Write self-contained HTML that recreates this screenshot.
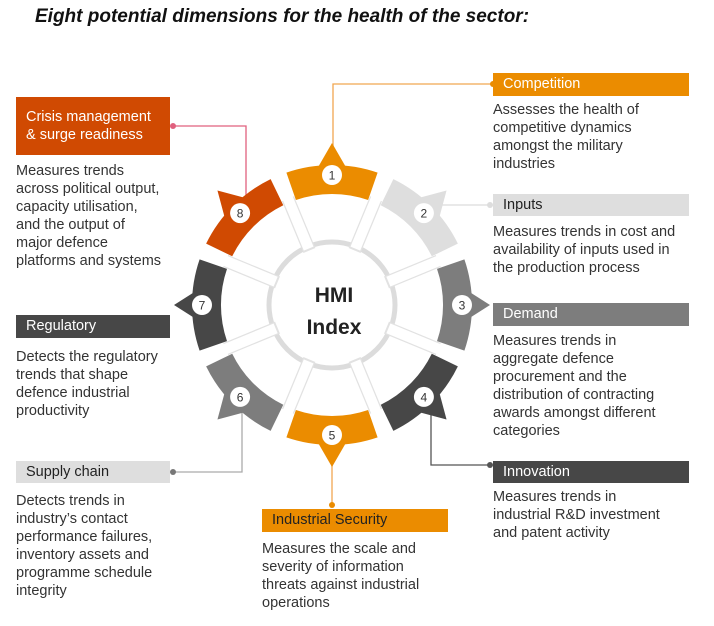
<!DOCTYPE html>
<html><head><meta charset="utf-8"><style>
body{margin:0;width:714px;height:626px;background:#fff;position:relative;font-family:"Liberation Sans",sans-serif;overflow:hidden}
.t{position:absolute;left:35px;top:6px;font-size:19px;font-weight:bold;font-style:italic;color:#111}
.b{position:absolute;font-size:14.5px;line-height:18px;padding-left:10px;box-sizing:border-box;color:#fff}
.d{position:absolute;font-size:14.5px;line-height:18px;color:#333}
svg{position:absolute;left:0;top:0}
</style></head><body>
<div class="t">Eight potential dimensions for the health of the sector:</div>
<svg width="714" height="626">
<circle cx="332" cy="305" r="63" fill="none" stroke="#dcdcdc" stroke-width="5"/>
<g transform="rotate(22.5 332 305)"><line x1="332" y1="246" x2="332" y2="190" stroke="#e2e2e2" stroke-width="13"/><line x1="332" y1="244" x2="332" y2="188" stroke="#fff" stroke-width="10.5"/></g>
<g transform="rotate(67.5 332 305)"><line x1="332" y1="246" x2="332" y2="190" stroke="#e2e2e2" stroke-width="13"/><line x1="332" y1="244" x2="332" y2="188" stroke="#fff" stroke-width="10.5"/></g>
<g transform="rotate(112.5 332 305)"><line x1="332" y1="246" x2="332" y2="190" stroke="#e2e2e2" stroke-width="13"/><line x1="332" y1="244" x2="332" y2="188" stroke="#fff" stroke-width="10.5"/></g>
<g transform="rotate(157.5 332 305)"><line x1="332" y1="246" x2="332" y2="190" stroke="#e2e2e2" stroke-width="13"/><line x1="332" y1="244" x2="332" y2="188" stroke="#fff" stroke-width="10.5"/></g>
<g transform="rotate(202.5 332 305)"><line x1="332" y1="246" x2="332" y2="190" stroke="#e2e2e2" stroke-width="13"/><line x1="332" y1="244" x2="332" y2="188" stroke="#fff" stroke-width="10.5"/></g>
<g transform="rotate(247.5 332 305)"><line x1="332" y1="246" x2="332" y2="190" stroke="#e2e2e2" stroke-width="13"/><line x1="332" y1="244" x2="332" y2="188" stroke="#fff" stroke-width="10.5"/></g>
<g transform="rotate(292.5 332 305)"><line x1="332" y1="246" x2="332" y2="190" stroke="#e2e2e2" stroke-width="13"/><line x1="332" y1="244" x2="332" y2="188" stroke="#fff" stroke-width="10.5"/></g>
<g transform="rotate(337.5 332 305)"><line x1="332" y1="246" x2="332" y2="190" stroke="#e2e2e2" stroke-width="13"/><line x1="332" y1="244" x2="332" y2="188" stroke="#fff" stroke-width="10.5"/></g>
<g fill="none" stroke-width="1.3">
<polyline points="333,150 333,84 493,84" stroke="#f0a650"/>
<polyline points="440,205 490,205" stroke="#dcdcdc"/>
<polyline points="173,126 246,126 246,195" stroke="#e0607e"/>
<polyline points="431,395 431,465 490,465" stroke="#555"/>
<polyline points="332,460 332,505" stroke="#f0a650"/>
<polyline points="173,472 242,472 242,405" stroke="#aaa"/>
</g>
<circle cx="493" cy="84" r="3" fill="#eb8c00"/>
<circle cx="490" cy="205" r="3" fill="#ddd"/>
<circle cx="173" cy="126" r="3" fill="#e0607e"/>
<circle cx="490" cy="465" r="3" fill="#555"/>
<circle cx="332" cy="505" r="3" fill="#eb8c00"/>
<circle cx="173" cy="472" r="3" fill="#777"/>
<defs><path id="seg" d="M286.4,172.6 A140,140 0 0 1 377.6,172.6 L368.1,200 A111,111 0 0 0 295.9,200Z"/></defs>
<g transform="rotate(0 332 305)" fill="#eb8c00"><use href="#seg"/><polygon points="317,169 347,169 332,143"/></g>
<g transform="rotate(45 332 305)" fill="#dedede"><use href="#seg"/><polygon points="317,169 347,169 332,143"/></g>
<g transform="rotate(90 332 305)" fill="#7d7d7d"><use href="#seg"/><polygon points="318,169 346,169 332,147"/></g>
<g transform="rotate(135 332 305)" fill="#474747"><use href="#seg"/><polygon points="317,169 347,169 332,143"/></g>
<g transform="rotate(180 332 305)" fill="#eb8c00"><use href="#seg"/><polygon points="317,169 347,169 332,143"/></g>
<g transform="rotate(225 332 305)" fill="#7d7d7d"><use href="#seg"/><polygon points="317,169 347,169 332,143"/></g>
<g transform="rotate(270 332 305)" fill="#474747"><use href="#seg"/><polygon points="318,169 346,169 332,147"/></g>
<g transform="rotate(315 332 305)" fill="#d04a02"><use href="#seg"/><polygon points="317,169 347,169 332,143"/></g>
<g fill="#fff">
<circle cx="332" cy="175" r="10"/><circle cx="423.9" cy="213.1" r="10"/><circle cx="462" cy="305" r="10"/><circle cx="423.9" cy="396.9" r="10"/>
<circle cx="332" cy="435" r="10"/><circle cx="240.1" cy="396.9" r="10"/><circle cx="202" cy="305" r="10"/><circle cx="240.1" cy="213.1" r="10"/>
</g>
<g font-family="Liberation Sans,sans-serif" font-size="12" fill="#333" text-anchor="middle">
<text x="332" y="179.5">1</text><text x="423.9" y="217.6">2</text><text x="462" y="309.5">3</text><text x="423.9" y="401.4">4</text>
<text x="332" y="439.5">5</text><text x="240.1" y="401.4">6</text><text x="202" y="309.5">7</text><text x="240.1" y="217.6">8</text>
</g>
<g font-family="Liberation Sans,sans-serif" font-size="21" font-weight="bold" fill="#222" text-anchor="middle">
<text x="334" y="302">HMI</text><text x="334" y="334">Index</text>
</g>
</svg>
<div class="b" style="left:493px;top:73px;width:196px;height:23px;line-height:23px;background:#eb8c00">Competition</div>
<div class="d" style="left:493px;top:101px">Assesses the health of<br>competitive dynamics<br>amongst the military<br>industries</div>
<div class="b" style="left:493px;top:194px;width:196px;height:22px;line-height:22px;background:#dedede;color:#222">Inputs</div>
<div class="d" style="left:493px;top:223px">Measures trends in cost and<br>availability of inputs used in<br>the production process</div>
<div class="b" style="left:493px;top:303px;width:196px;height:23px;line-height:23px;background:#7d7d7d">Demand</div>
<div class="d" style="left:493px;top:332px">Measures trends in<br>aggregate defence<br>procurement and the<br>distribution of contracting<br>awards amongst different<br>categories</div>
<div class="b" style="left:493px;top:461px;width:196px;height:22px;line-height:22px;background:#474747">Innovation</div>
<div class="d" style="left:493px;top:488px">Measures trends in<br>industrial R&amp;D investment<br>and patent activity</div>
<div class="b" style="left:262px;top:509px;width:186px;height:23px;line-height:23px;background:#eb8c00;color:#222">Industrial Security</div>
<div class="d" style="left:262px;top:540px">Measures the scale and<br>severity of information<br>threats against industrial<br>operations</div>
<div class="b" style="left:16px;top:461px;width:154px;height:22px;line-height:22px;background:#dedede;color:#222">Supply chain</div>
<div class="d" style="left:16px;top:492px">Detects trends in<br>industry’s contact<br>performance failures,<br>inventory assets and<br>programme schedule<br>integrity</div>
<div class="b" style="left:16px;top:315px;width:154px;height:23px;line-height:23px;background:#474747">Regulatory</div>
<div class="d" style="left:16px;top:348px">Detects the regulatory<br>trends that shape<br>defence industrial<br>productivity</div>
<div class="b" style="left:16px;top:97px;width:154px;height:58px;padding-top:11px;line-height:18px;background:#d04a02">Crisis management<br>&amp; surge readiness</div>
<div class="d" style="left:16px;top:162px">Measures trends<br>across political output,<br>capacity utilisation,<br>and the output of<br>major defence<br>platforms and systems</div>
</body></html>
